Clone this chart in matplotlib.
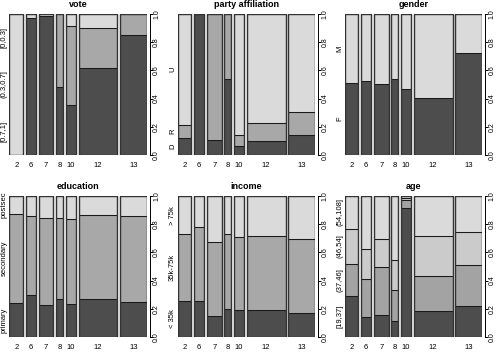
import matplotlib
matplotlib.use("Agg")
import matplotlib.pyplot as plt
import numpy as np

plt.rcParams['font.family'] = ['Liberation Sans', 'DejaVu Sans']

nodes = ["2", "6", "7", "8", "10", "12", "13"]
node_sizes = [14.0, 10.8, 14.8, 7.3, 10.7, 39.3, 27.2]

vote_levels = ["[0.7,1]", "(0.3,0.7]", "[0,0.3]"]
vote = [[0.0, 0.0, 1.0], [0.975, 0.0, 0.025], [0.988, 0.0, 0.012], [0.48, 0.52, 0.0],
        [0.352, 0.565, 0.083], [0.615, 0.285, 0.10], [0.851, 0.149, 0.0]]

party_levels = ["D", "R", "U"]
party = [[0.12, 0.09, 0.79], [1.0, 0.0, 0.0], [0.109, 0.891, 0.0], [0.537, 0.463, 0.0],
         [0.066, 0.076, 0.858], [0.10, 0.127, 0.773], [0.142, 0.161, 0.697]]

gender_levels = ["F", "M"]
gender_f = [0.508, 0.527, 0.504, 0.539, 0.468, 0.404, 0.726]
gender = [[f, 1 - f] for f in gender_f]

education_levels = ["primary", "secondary", "postsec"]
education = [[0.242, 0.630, 0.128], [0.296, 0.562, 0.142], [0.225, 0.621, 0.154],
             [0.268, 0.578, 0.154], [0.232, 0.602, 0.166], [0.268, 0.597, 0.135],
             [0.251, 0.604, 0.145]]

income_levels = ["< 35k", "35k-75k", "> 75k"]
income = [[0.256, 0.471, 0.273], [0.258, 0.524, 0.218], [0.147, 0.526, 0.327],
          [0.197, 0.533, 0.270], [0.194, 0.512, 0.294], [0.194, 0.524, 0.282],
          [0.171, 0.521, 0.308]]

age_levels = ["[19,37]", "(37,46]", "(46,54]", "(54,108]"]
age = [[0.291, 0.228, 0.249, 0.232], [0.145, 0.263, 0.213, 0.379],
       [0.156, 0.337, 0.204, 0.303], [0.111, 0.221, 0.213, 0.455],
       [0.917, 0.055, 0.011, 0.017], [0.185, 0.251, 0.280, 0.284],
       [0.220, 0.292, 0.230, 0.258]]

panels = [("vote", vote_levels, vote), ("party affiliation", party_levels, party),
          ("gender", gender_levels, gender), ("education", education_levels, education),
          ("income", income_levels, income), ("age", age_levels, age)]

colors3 = ["#4d4d4d", "#a8a8a8", "#dadada"]
colors2 = ["#4d4d4d", "#dadada"]
colors4 = ["#4d4d4d", "#a3a3a3", "#cbcbcb", "#dadada"]

W, H = 496, 353
fig = plt.figure(figsize=(W / 100, H / 100), dpi=100)

col_left = [9.3, 177.5, 344.5]
row_top = [14.0, 196.0]
pw, ph = 137.5, 141.0

sizes = np.array(node_sizes) / np.sum(node_sizes)
gap = 0.02
lefts = np.concatenate([[0], np.cumsum(sizes + gap)[:-1]])
total = sizes.sum() + gap * (len(sizes) - 1)

for i, (title, levels, data) in enumerate(panels):
    r, c = divmod(i, 3)
    x0 = col_left[c]
    y0 = row_top[r]
    ax = fig.add_axes([x0 / W, (H - y0 - ph) / H, pw / W, ph / H])
    data = np.array(data)
    n = len(levels)
    cols = colors3 if n == 3 else (colors2 if n == 2 else colors4)
    bottoms = np.zeros(len(nodes))
    for k in range(n):
        ax.bar(lefts, data[:, k], width=sizes, bottom=bottoms, align='edge',
               color=cols[k], edgecolor='#1a1a1a', linewidth=0.75)
        bottoms += data[:, k]
    for j in range(len(nodes)):
        ax.add_patch(plt.Rectangle((lefts[j], 0), sizes[j], 1, fill=False,
                                   edgecolor='#333333', linewidth=1.0))
    ax.set_xlim(0, total)
    ax.set_ylim(0, 1)
    for s in ['left', 'top', 'bottom']:
        ax.spines[s].set_visible(False)
    ax.spines['right'].set_position(('outward', 2.0))
    ax.spines['right'].set_linewidth(0.7)
    ax.yaxis.tick_right()
    ax.set_yticks([0, 0.2, 0.4, 0.6, 0.8, 1.0])
    ax.set_yticklabels(["0.0", "0.2", "0.4", "0.6", "0.8", "1.0"], rotation=90,
                       va='center', fontsize=5.0)
    ax.tick_params(axis='y', length=2.0, width=0.7, pad=0.6)
    ax.set_xticks(lefts + sizes / 2)
    ax.set_xticklabels(nodes, fontsize=5.5)
    ax.tick_params(axis='x', length=0, pad=5)
    ax.set_title(title, fontsize=6.5, fontweight='bold', pad=5)
    # left category labels
    first = data[0]
    if np.any(first < 0.005):
        ypos = (np.arange(n) + 0.5) / n
    else:
        cum = np.concatenate([[0], np.cumsum(first)])
        ypos = (cum[:-1] + cum[1:]) / 2
    for lab, yp in zip(levels, ypos):
        ax.annotate(lab, xy=(0, yp), xycoords='axes fraction', xytext=(-3.5, 0),
                    textcoords='offset points', rotation=90, ha='center',
                    va='center', fontsize=5.5)

fig.savefig("out.png", dpi=100)
